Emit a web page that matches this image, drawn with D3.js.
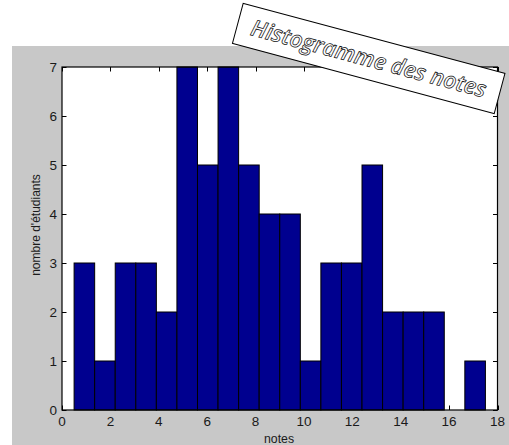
<!DOCTYPE html>
<html>
<head>
<meta charset="utf-8">
<title>Histogramme des notes</title>
<script src="https://cdn.jsdelivr.net/npm/d3@7"></script>
<style>
body { margin:0; background:#fff; }
text { font-family: "Liberation Sans", Arial, sans-serif; fill:#1a1a1a; }
</style>
</head>
<body>
<script>
// bin edges of the histogram (20 bins) and counts per bin
var binEdges = [0.5, 1.35, 2.2, 3.05, 3.9, 4.75, 5.6, 6.45, 7.3, 8.15, 9.0,
                9.85, 10.7, 11.55, 12.4, 13.25, 14.1, 14.95, 15.8, 16.65, 17.5];
var counts = [3, 1, 3, 3, 2, 7, 5, 7, 5, 4, 4, 1, 3, 3, 5, 2, 2, 2, 0, 1];
var xTicks = [0, 2, 4, 6, 8, 10, 12, 14, 16, 18];
var yTicks = [0, 1, 2, 3, 4, 5, 6, 7];
var titleText = "Histogramme des notes";
var xLabel = "notes";
var yLabel = "nombre d'étudiants";

var width = 509, height = 445;
var pLeft = 62, pRight = 497.5, pTop = 67, pBottom = 410;

var svg = d3.select("body").append("svg")
    .attr("width", width)
    .attr("height", height);

// figure background (matlab grey)
svg.append("rect")
    .attr("x", 12).attr("y", 46)
    .attr("width", width - 12).attr("height", height - 46)
    .attr("fill", "#c8c8c8");

var x = d3.scaleLinear().domain([0, 18]).range([pLeft, pRight]);
var y = d3.scaleLinear().domain([0, 7]).range([pBottom, pTop]);

svg.append("rect")
    .attr("x", pLeft).attr("y", pTop)
    .attr("width", pRight - pLeft).attr("height", pBottom - pTop)
    .attr("fill", "#fff");

var tk = 4.5;
// ticks, inward, mirrored on top and right (drawn under the bars)
var ticks = svg.append("g").attr("stroke", "#000").attr("stroke-width", 1);
xTicks.forEach(function(v) {
    var px = Math.round(x(v)) + 0.5;
    ticks.append("line").attr("x1", px).attr("x2", px).attr("y1", pBottom).attr("y2", pBottom - tk);
    ticks.append("line").attr("x1", px).attr("x2", px).attr("y1", pTop).attr("y2", pTop + tk);
});
yTicks.forEach(function(v) {
    var py = Math.round(y(v)) + 0.5;
    ticks.append("line").attr("x1", pLeft).attr("x2", pLeft + tk).attr("y1", py).attr("y2", py);
    ticks.append("line").attr("x1", pRight).attr("x2", pRight - tk).attr("y1", py).attr("y2", py);
});

// bars
var bars = svg.append("g");
counts.forEach(function(c, i) {
    if (c == 0) return;
    bars.append("rect")
        .attr("x", x(binEdges[i]))
        .attr("y", y(c))
        .attr("width", x(binEdges[i + 1]) - x(binEdges[i]))
        .attr("height", y(0) - y(c))
        .attr("fill", "#00008f")
        .attr("stroke", "#000")
        .attr("stroke-width", 1);
});

// axes box
svg.append("rect")
    .attr("x", pLeft).attr("y", pTop)
    .attr("width", pRight - pLeft).attr("height", pBottom - pTop)
    .attr("fill", "none").attr("stroke", "#000").attr("stroke-width", 1.2);

// tick labels
svg.append("g").selectAll("text")
    .data(xTicks).enter().append("text")
    .attr("x", function(d) { return x(d); })
    .attr("y", 425.5)
    .attr("text-anchor", "middle")
    .style("font-size", "13.5px")
    .text(function(d) { return d; });

svg.append("g").selectAll("text")
    .data(yTicks).enter().append("text")
    .attr("x", 57)
    .attr("y", function(d) { return y(d) + 5; })
    .attr("text-anchor", "end")
    .style("font-size", "13.5px")
    .text(function(d) { return d; });

// axis labels
svg.append("text")
    .attr("x", 279).attr("y", 442.5)
    .attr("text-anchor", "middle")
    .style("font-size", "12.3px")
    .text(xLabel);

svg.append("text")
    .attr("transform", "translate(40,225) rotate(-90)")
    .attr("text-anchor", "middle")
    .style("font-size", "12px")
    .text(yLabel);

// rotated title box
var tb = svg.append("g").attr("transform", "translate(368.7,58.4) rotate(15)");
tb.append("rect")
    .attr("x", -135.5).attr("y", -20.75)
    .attr("width", 271).attr("height", 41.5)
    .attr("fill", "#fff").attr("stroke", "#000").attr("stroke-width", 1);
tb.append("text")
    .attr("x", 0).attr("y", 8)
    .attr("text-anchor", "middle")
    .style("font-family", "'Open Sans', sans-serif")
    .style("font-style", "italic")
    .style("font-weight", "600")
    .style("font-size", "22.5px")
    .style("fill", "#fff")
    .style("stroke", "#111")
    .style("stroke-width", 0.75)
    .text(titleText);
</script>
</body>
</html>
